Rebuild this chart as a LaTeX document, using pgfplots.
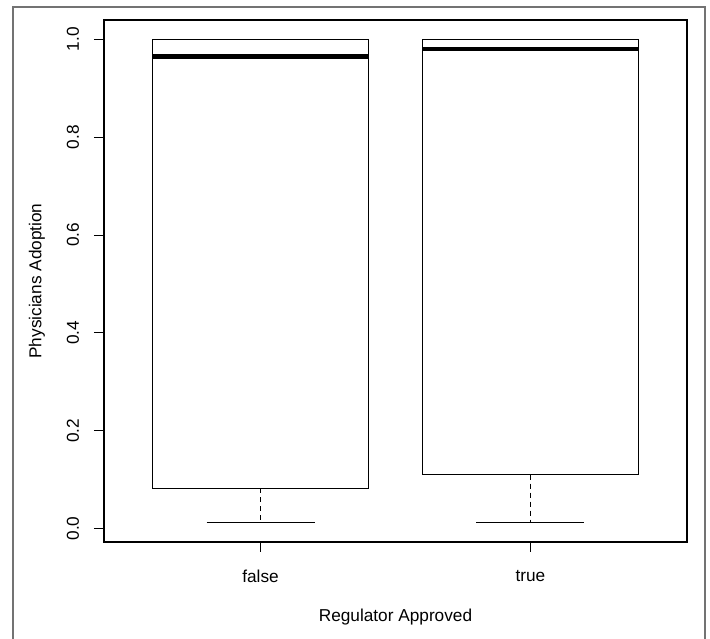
\documentclass[border=0pt]{standalone}
\usepackage{pgfplots}
\pgfplotsset{compat=1.18}
\usepgfplotslibrary{statistics}
\usepackage{fontspec}
\setmainfont{Liberation Sans}
\begin{document}
\begin{tikzpicture}[x=1bp,y=1bp]
\useasboundingbox (0,0) rectangle (710,639);
\draw[black!55, line width=1.2bp] (13,0) -- (13,632) -- (705,632) -- (705,0);
\begin{axis}[
  at={(104bp,97bp)}, anchor=south west,
  scale only axis, width=583bp, height=522bp,
  xmin=0.42, xmax=2.58, ymin=-0.0275, ymax=1.0395,
  axis line style={line width=1.2bp},
  xtick={1,2}, xticklabels={false,true},
  ytick={0,0.2,0.4,0.6,0.8,1.0},
  yticklabels={0.0,0.2,0.4,0.6,0.8,1.0},
  tick align=outside, major tick length=10bp,
  xtick pos=bottom, ytick pos=left,
  tick style={black, line width=0.9bp},
  /pgf/number format/assume math mode=true,
  font=\fontsize{17.3}{20}\selectfont,
  yticklabel style={rotate=90, anchor=center},
  xticklabel style={anchor=center},
  yticklabel shift=21bp,
  xticklabel shift=24bp,
  xlabel={Regulator Approved}, ylabel={Physicians Adoption},
  xlabel style={at={(axis description cs:0.5,-0.1437)}, anchor=center},
  ylabel style={at={(axis description cs:-0.1150,0.5)}, anchor=center, rotate=0},
  boxplot/draw direction=y,
  boxplot/box extend=0.8,
  boxplot/whisker extend=0.4,
  boxplot/every median/.style={line width=4.2bp},
  boxplot/draw/lower whisker/.code={%
    \draw[dash pattern=on 5bp off 4bp, line width=0.9bp]
      (boxplot whisker cs:\pgfplotsboxplotvalue{lower quartile},0.5) --
      (boxplot whisker cs:\pgfplotsboxplotvalue{lower whisker},0.5);
    \draw[line width=0.9bp]
      (boxplot whisker cs:\pgfplotsboxplotvalue{lower whisker},0) --
      (boxplot whisker cs:\pgfplotsboxplotvalue{lower whisker},1);
  },
  boxplot/draw/upper whisker/.code={},
]
\addplot[black, line width=0.9bp, boxplot prepared={draw position=1,
  median=0.965, upper quartile=1.0, lower quartile=0.082,
  upper whisker=1.0, lower whisker=0.012}] coordinates {};
\addplot[black, line width=0.9bp, boxplot prepared={draw position=2,
  median=0.980, upper quartile=1.0, lower quartile=0.110,
  upper whisker=1.0, lower whisker=0.012}] coordinates {};
\end{axis}
\end{tikzpicture}
\end{document}
